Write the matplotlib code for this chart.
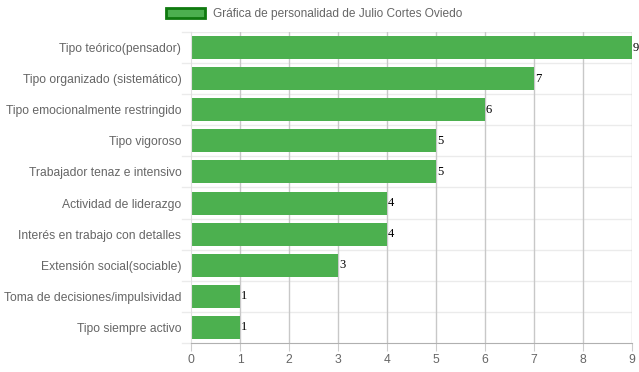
import numpy as np
import matplotlib
matplotlib.use("Agg")
import matplotlib.pyplot as plt
from matplotlib.patches import Patch

categorias = [
    "Tipo teórico(pensador)",
    "Tipo organizado (sistemático)",
    "Tipo emocionalmente restringido",
    "Tipo vigoroso",
    "Trabajador tenaz e intensivo",
    "Actividad de liderazgo",
    "Interés en trabajo con detalles",
    "Extensión social(sociable)",
    "Toma de decisiones/impulsividad",
    "Tipo siempre activo",
]
valores = [9, 7, 6, 5, 5, 4, 4, 3, 1, 1]
xticks = list(range(0, 10))
titulo = "Gráfica de personalidad de Julio Cortes Oviedo"

plt.rcParams["font.family"] = ["Liberation Sans", "DejaVu Sans"]

VERDE = "#4cb04f"
GRIS = "#666666"

fig = plt.figure(figsize=(6.39, 3.72), dpi=100)
ax = fig.add_axes([191 / 639, 1 - 343 / 372, (632 - 191) / 639, (343 - 32) / 372])

y = np.arange(len(categorias))
ax.barh(y, valores, height=0.74, color=VERDE, zorder=2)
ax.set_ylim(len(categorias) - 0.5, -0.5)
ax.set_xlim(0, 9)

ax.set_yticks(y)
ax.set_yticklabels(categorias, fontsize=8.7, color=GRIS)
ax.set_xticks(xticks)
ax.set_xticklabels([str(t) for t in xticks], fontsize=8.7, color=GRIS)
ax.tick_params(axis="y", length=0, pad=7)
ax.tick_params(axis="x", length=6, color="#cccccc", pad=2)

# líneas de cuadrícula
for xv in xticks[1:]:
    ax.axvline(xv, color="#c8c8c8", lw=1, zorder=1)
for b in np.arange(-0.5, len(categorias), 1.0)[:-1]:
    ax.axhline(b, color="#ebebeb", lw=1, zorder=0)
for b in np.arange(-0.5, len(categorias), 1.0):
    ax.plot([-0.18, 0], [b, b], color="#ebebeb", lw=1, clip_on=False)

for s in ["top", "right"]:
    ax.spines[s].set_visible(False)
ax.spines["left"].set_color("#e0e0e0")
ax.spines["bottom"].set_color("#b0b0b0")

for yi, v in zip(y, valores):
    ax.text(v + 0.02, yi, str(v), fontsize=9, color="black",
            family="Liberation Serif", ha="left", va="center", clip_on=False)

leg = fig.legend(handles=[Patch(facecolor=VERDE, edgecolor="#0f7a0f", lw=2, label=titulo)],
                 loc="center", bbox_to_anchor=(314 / 639, 1 - 14 / 372), frameon=False,
                 fontsize=8.6, handlelength=3.3, handleheight=1.0, handletextpad=0.6)
for t in leg.get_texts():
    t.set_color(GRIS)

fig.savefig("out.png", dpi=100)
